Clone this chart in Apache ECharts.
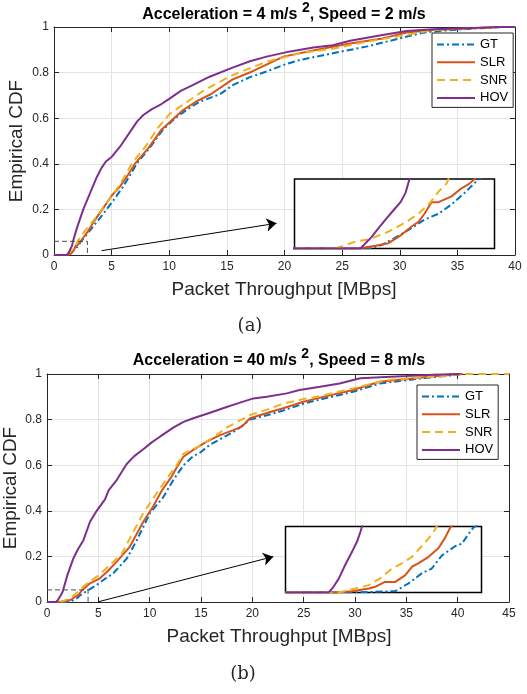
<!DOCTYPE html>
<html><head><meta charset="utf-8">
<script src="https://cdn.jsdelivr.net/npm/echarts@6/dist/echarts.min.js"></script>
<style>html,body{margin:0;padding:0;background:#fff}#c{width:527px;height:694px}</style>
</head><body><div id="c"></div>
<script>
// ---------- data ----------
const SERIES_NAMES = ['GT', 'SLR', 'SNR', 'HOV'];
const Y_TICKS = [0, 0.2, 0.4, 0.6, 0.8, 1];
const A_X_TICKS = [0, 5, 10, 15, 20, 25, 30, 35, 40];
const B_X_TICKS = [0, 5, 10, 15, 20, 25, 30, 35, 40, 45];

// (a) Acceleration = 4 m/s^2, Speed = 2 m/s  — [throughput, CDF]
const A_GT = [[0,0],[1.24,0],[1.37,0.003],[1.5,0.009],[1.67,0.0175],[1.8,0.025],[1.94,0.03],[2.07,0.038],[2.2,0.048],[2.33,0.059],[2.6,0.075],[3.0,0.1],[3.8,0.15],[4.57,0.2],[5.3,0.25],[6.0,0.3],[6.6,0.35],[7.17,0.4],[8.3,0.47],[9.43,0.548],[10.5,0.6],[11.6,0.64],[12.66,0.673],[14.4,0.705],[15.55,0.746],[17.0,0.78],[18.45,0.805],[20,0.835],[21.3,0.855],[24.2,0.885],[27.1,0.914],[30,0.95],[32,0.975],[34,0.985],[36.5,0.993],[39,1],[40,1]];
const A_SLR = [[0,0],[1.14,0],[1.31,0.0023],[1.44,0.0046],[1.57,0.0118],[1.67,0.019],[1.74,0.023],[1.8,0.03],[1.87,0.04],[1.94,0.04],[2.07,0.045],[2.17,0.052],[2.25,0.056],[2.3,0.06],[2.6,0.08],[2.9,0.1],[3.5,0.15],[4.2,0.2],[5.0,0.26],[5.72,0.3],[6.4,0.35],[7.02,0.4],[8.2,0.47],[9.3,0.548],[10.2,0.59],[11.2,0.636],[12.4,0.675],[13.6,0.705],[15.5,0.77],[17.2,0.805],[19.9,0.87],[22.8,0.9],[25.7,0.928],[28.5,0.95],[30.6,0.976],[32.9,0.987],[35.8,0.993],[38.5,1],[40,1]];
const A_SNR = [[0,0],[0.91,0],[1.11,0.006],[1.25,0.008],[1.44,0.0146],[1.6,0.022],[1.74,0.03],[1.85,0.039],[1.94,0.049],[2.02,0.056],[2.04,0.06],[2.6,0.1],[3.4,0.15],[4.15,0.2],[4.9,0.25],[5.58,0.3],[6.2,0.35],[6.74,0.4],[8.0,0.48],[9.05,0.56],[10.06,0.62],[11.36,0.665],[12.95,0.72],[14.2,0.755],[15.55,0.79],[16.8,0.815],[18.45,0.848],[21.3,0.885],[24.2,0.905],[27.1,0.935],[30,0.96],[32.9,0.987],[35.8,0.993],[38.7,1],[40,1]];
const A_HOV = [[0,0],[1.16,0],[1.21,0.0046],[1.27,0.0098],[1.34,0.0175],[1.41,0.025],[1.49,0.033],[1.56,0.04],[1.61,0.048],[1.65,0.06],[2.0,0.12],[2.54,0.2],[3.2,0.28],[3.7,0.34],[4.1,0.38],[4.5,0.41],[5.0,0.43],[5.8,0.48],[6.6,0.54],[7.2,0.585],[7.75,0.614],[8.5,0.64],[9.2,0.658],[10.06,0.687],[11.0,0.72],[12.08,0.746],[13.5,0.782],[15.5,0.822],[17.0,0.85],[18.45,0.87],[20.5,0.893],[22.5,0.91],[24.2,0.92],[25.7,0.94],[28.5,0.965],[30.6,0.982],[32.9,0.99],[35.8,0.994],[38.7,1],[40,1]];

// (b) Acceleration = 40 m/s^2, Speed = 8 m/s
const B_GT = [[0,0],[1.42,0],[2.24,0.001],[2.51,0.0069],[2.78,0.0145],[2.98,0.018],[3.19,0.028],[3.46,0.035],[3.6,0.037],[3.73,0.044],[3.83,0.049],[4.84,0.075],[5.6,0.1],[6.46,0.126],[7.76,0.19],[8.74,0.27],[10.03,0.39],[11.33,0.46],[12.3,0.535],[13.3,0.6],[14.25,0.64],[14.9,0.655],[15.88,0.69],[17.5,0.73],[18.5,0.755],[19.77,0.8],[21.5,0.82],[23,0.84],[25,0.87],[26.3,0.885],[29.8,0.922],[32.4,0.958],[36.3,0.98],[39.6,0.995],[40.5,1]];
const B_SLR = [[0,0],[1.02,0],[1.36,0.001],[1.7,0.003],[1.83,0.0043],[2.03,0.008],[2.24,0.008],[2.44,0.013],[2.58,0.0195],[2.71,0.022],[2.92,0.027],[3.12,0.0335],[3.25,0.041],[3.36,0.049],[4.19,0.082],[5.16,0.104],[5.9,0.135],[6.79,0.177],[8.08,0.243],[9.38,0.352],[10.35,0.42],[11.2,0.49],[12.14,0.55],[12.63,0.59],[13.28,0.637],[14.25,0.667],[15.55,0.703],[16.85,0.732],[18.15,0.754],[19.0,0.77],[19.77,0.806],[21.5,0.83],[23,0.85],[25,0.878],[26.3,0.893],[29.8,0.93],[32.4,0.966],[36.3,0.984],[39.6,0.999],[40.5,1]];
const B_SNR = [[0,0],[1.09,0],[1.42,0.003],[1.7,0.0056],[1.93,0.0107],[2.17,0.018],[2.37,0.022],[2.58,0.027],[2.78,0.035],[2.92,0.041],[3.05,0.0475],[3.08,0.05],[4.0,0.085],[4.84,0.111],[5.6,0.14],[6.46,0.177],[7.27,0.21],[8.08,0.28],[9.38,0.39],[10.68,0.477],[11.65,0.54],[12.63,0.6],[13.28,0.65],[14.9,0.685],[16.5,0.732],[17.5,0.765],[19.77,0.82],[21.5,0.845],[23,0.87],[25,0.89],[26.3,0.9],[29.8,0.937],[33.1,0.974],[37.6,0.988],[39.6,0.995],[40.2,1],[45,1]];
const B_HOV = [[0,0],[0.88,0],[0.98,0.0043],[1.09,0.0107],[1.22,0.021],[1.36,0.031],[1.46,0.0386],[1.53,0.046],[1.56,0.05],[2.0,0.12],[2.56,0.19],[3.0,0.23],[3.54,0.27],[4.19,0.352],[4.84,0.4],[5.65,0.45],[6.0,0.49],[6.79,0.535],[7.76,0.605],[8.5,0.64],[9.38,0.67],[10.2,0.7],[11.0,0.725],[12.3,0.765],[13.3,0.79],[14.25,0.806],[15.88,0.83],[17.5,0.855],[18.5,0.87],[20.1,0.893],[21.4,0.9],[23.35,0.915],[24.6,0.93],[26.6,0.944],[28.5,0.958],[30.5,0.981],[33,0.987],[35,0.991],[37.6,0.997],[40.2,1]];

// zoom regions (data space) and annotation arrows
const A_INSET_X = [0.5, 2.5], A_INSET_Y = [0, 0.06];
const B_INSET_X = [0, 4], B_INSET_Y = [0, 0.05];
const A_ZOOM_BOX = [[0,0.06],[2.9,0.06],[2.9,0]];
const B_ZOOM_BOX = [[0,0.053],[4.0,0.053],[4.0,0]];
const A_ARROW = [[4.13,0.019],[19.31,0.139]];
const B_ARROW = [[5.0,0.001],[22.04,0.199]];

// ---------- styles ----------
const COLORS = {GT:'#0072BD', SLR:'#D95319', SNR:'#EDB120', HOV:'#7E2F8E'};
const DASH = {GT:[7,3,2,3], SLR:'solid', SNR:[8,5], HOV:'solid'};
const AX = '#262626', GRIDC = '#e3e3e3';
const FONT = "'Liberation Sans', Arial, Helvetica, sans-serif";

function mainX(gi, ticks, top){
  return {gridIndex:gi, type:'value', min:ticks[0], max:ticks[ticks.length-1], interval:ticks[1]-ticks[0],
    position: top?'top':'bottom', z:1,
    axisLine:{show:true, onZero:false, lineStyle:{color:AX, width:1}},
    axisTick:{show:true, inside:true, length:5, lineStyle:{color:AX}},
    axisLabel:{show:!top, color:AX, fontSize:12, fontFamily:FONT, margin:6},
    splitLine:{show:!top, lineStyle:{color:GRIDC, width:1}}};
}
function mainY(gi, right){
  return {gridIndex:gi, type:'value', min:Y_TICKS[0], max:Y_TICKS[Y_TICKS.length-1], interval:Y_TICKS[1]-Y_TICKS[0],
    position: right?'right':'left', z:1,
    axisLine:{show:true, onZero:false, lineStyle:{color:AX, width:1}},
    axisTick:{show:true, inside:true, length:5, lineStyle:{color:AX}},
    axisLabel:{show:!right, color:AX, fontSize:12, fontFamily:FONT, margin:5},
    splitLine:{show:!right, lineStyle:{color:GRIDC, width:1}}};
}
function insetAxis(gi, r){ return {gridIndex:gi, type:'value', min:r[0], max:r[1], show:false, splitLine:{show:false}}; }

function curve(name, data, xi, yi, z){
  return {type:'line', name, data, xAxisIndex:xi, yAxisIndex:yi, symbol:'none', showSymbol:false,
    z, clip:true, animation:false, emphasis:{disabled:true},
    lineStyle:{color:COLORS[name], width:2, type:DASH[name]}, itemStyle:{color:COLORS[name]}};
}
function box(data, xi, yi){
  return {type:'line', name:'zoom', data, xAxisIndex:xi, yAxisIndex:yi, symbol:'none', z:3, animation:false,
    lineStyle:{color:'#4d4d4d', width:1, type:[5,3]}, emphasis:{disabled:true}};
}
function arrow(coords, xi, yi){
  return {type:'lines', coordinateSystem:'cartesian2d', xAxisIndex:xi, yAxisIndex:yi, z:12, silent:true, animation:false,
    symbol:['none','arrow'], symbolSize:10, lineStyle:{color:'#000', width:1, opacity:1, curveness:0},
    data:[{coords}]};
}
function legend(left, top){
  return {data:SERIES_NAMES, orient:'vertical', left, top, z:20, itemWidth:38, itemHeight:13, itemGap:4.8,
    padding:[5,5,3,4], backgroundColor:'#fff', borderColor:AX, borderWidth:1, borderRadius:0,
    itemStyle:{opacity:0, borderWidth:0}, lineStyle:{width:2},
    selectedMode:false, textStyle:{color:'#000', fontSize:13, fontFamily:FONT}};
}

const A = {GT:A_GT, SLR:A_SLR, SNR:A_SNR, HOV:A_HOV};
const B = {GT:B_GT, SLR:B_SLR, SNR:B_SNR, HOV:B_HOV};
const series = [];
SERIES_NAMES.forEach(n => series.push(curve(n, A[n], 0, 0, 2)));
SERIES_NAMES.forEach(n => series.push(curve(n, A[n], 2, 2, 11)));
SERIES_NAMES.forEach(n => series.push(curve(n, B[n], 3, 3, 2)));
SERIES_NAMES.forEach(n => series.push(curve(n, B[n], 5, 5, 11)));
series.push(box(A_ZOOM_BOX, 0, 0), box(B_ZOOM_BOX, 3, 3));
series.push(arrow(A_ARROW, 0, 0), arrow(B_ARROW, 3, 3));

function title(x, y, acc, spd){
  return {type:'text', x, y, z:30, style:{
    text:'{b|Acceleration = ' + acc + ' m/s }{s|2}{b|, Speed = ' + spd + ' m/s}',
    align:'center', verticalAlign:'middle', textAlign:'center', textVerticalAlign:'middle',
    rich:{b:{fontSize:16, fontWeight:'bold', fontFamily:FONT, fill:'#000', color:'#000', lineHeight:22, verticalAlign:'bottom'},
          s:{fontSize:14, fontWeight:'bold', fontFamily:FONT, fill:'#000', color:'#000', lineHeight:22, verticalAlign:'top'}}}};
}
function txt(x, y, text, font, rot){
  return {type:'text', x, y, rotation:rot||0, z:30, style:{text, font, fill:'#262626',
    align:'center', verticalAlign:'middle', textAlign:'center', textVerticalAlign:'middle'}};
}

const option = {
  backgroundColor:'#fff',
  animation:false,
  grid:[
    {left:54, top:27, width:461, height:228, containLabel:false},
    {left:294.5, top:179, width:200, height:69.5, show:true, borderColor:'#000', borderWidth:1.5, backgroundColor:'#fff', z:10},
    {left:47, top:374, width:462, height:228, containLabel:false},
    {left:285.5, top:526.5, width:196, height:66, show:true, borderColor:'#000', borderWidth:1.5, backgroundColor:'#fff', z:10}
  ],
  xAxis:[mainX(0, A_X_TICKS, false), mainX(0, A_X_TICKS, true), insetAxis(1, A_INSET_X),
         mainX(2, B_X_TICKS, false), mainX(2, B_X_TICKS, true), insetAxis(3, B_INSET_X)],
  yAxis:[mainY(0, false), mainY(0, true), insetAxis(1, A_INSET_Y),
         mainY(2, false), mainY(2, true), insetAxis(3, B_INSET_Y)],
  legend:[legend(432, 33), legend(417, 385)],
  series,
  graphic:[
    title(284, 12, '4', '2'),
    txt(284, 290, 'Packet Throughput [MBps]', "19px " + FONT),
    txt(17, 141, 'Empirical CDF', "19px " + FONT, Math.PI/2),
    txt(250, 326, '(a)', "18px 'DejaVu Serif', serif"),
    title(279, 358, '40', '8'),
    txt(279, 637, 'Packet Throughput [MBps]', "19px " + FONT),
    txt(11, 488, 'Empirical CDF', "19px " + FONT, Math.PI/2),
    txt(243, 674, '(b)', "18px 'DejaVu Serif', serif")
  ]
};
const chart = echarts.init(document.getElementById('c'), null, {renderer:'canvas'});
chart.setOption(option);
</script></body></html>
